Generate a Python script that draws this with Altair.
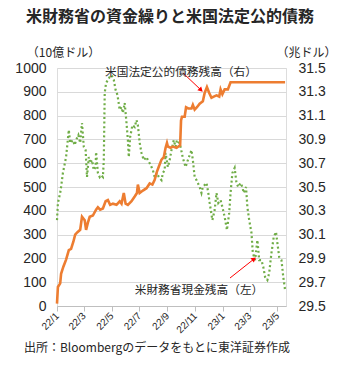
import altair as alt
import pandas as pd

# 米財務省現金残高（10億ドル, 左軸）
tga_dates = ["2022-01-01","2022-01-03","2022-01-08","2022-01-10","2022-01-14","2022-01-21","2022-01-27","2022-01-30",
             "2022-02-05","2022-02-09","2022-02-12","2022-02-17","2022-02-21","2022-02-25","2022-03-01","2022-03-05",
             "2022-03-08","2022-03-12","2022-03-15","2022-03-19","2022-03-23","2022-03-27","2022-03-28","2022-04-01",
             "2022-04-05","2022-04-08","2022-04-12","2022-04-14","2022-04-16","2022-04-19","2022-04-27","2022-05-01",
             "2022-05-06","2022-05-10","2022-05-14","2022-05-19","2022-05-23","2022-05-26","2022-05-30","2022-06-03",
             "2022-06-06","2022-06-08","2022-06-11","2022-06-16","2022-06-21","2022-06-25","2022-06-28","2022-07-02",
             "2022-07-06","2022-07-11","2022-07-17","2022-07-20","2022-07-24","2022-07-28","2022-07-31","2022-08-04",
             "2022-08-09","2022-08-13","2022-08-19","2022-08-22","2022-08-26","2022-08-28","2022-09-02","2022-09-06",
             "2022-09-10","2022-09-15","2022-09-19","2022-09-22","2022-09-27","2022-09-30","2022-10-05","2022-10-11",
             "2022-10-16","2022-10-24","2022-10-27","2022-10-31","2022-11-04","2022-11-11","2022-11-15","2022-11-18",
             "2022-11-26","2022-11-30","2022-12-03","2022-12-09","2022-12-14","2022-12-18","2022-12-22","2022-12-27",
             "2022-12-31","2023-01-05","2023-01-10","2023-01-15","2023-01-18","2023-01-22","2023-01-27","2023-01-31",
             "2023-02-04","2023-02-09","2023-02-13","2023-02-16","2023-02-21","2023-02-24","2023-02-28","2023-03-05",
             "2023-03-08","2023-03-13","2023-03-18","2023-03-22","2023-03-27","2023-03-31","2023-04-04","2023-04-09",
             "2023-04-13","2023-04-18","2023-04-23","2023-04-28","2023-05-01","2023-05-05","2023-05-10","2023-05-14",
             "2023-05-18"]
tga_values = [361, 433, 475, 500, 559, 626, 740, 685,
              697, 676, 697, 718, 685, 769, 668, 655,
              542, 626, 600, 613, 571, 584, 647, 559,
              542, 550, 542, 613, 895, 937, 962, 970,
              950, 908, 887, 824, 836, 811, 853, 769,
              697, 626, 710, 760, 752, 781, 760, 685,
              643, 613, 626, 613, 600, 584, 571, 542,
              559, 542, 529, 559, 571, 643, 584, 613,
              655, 697, 668, 697, 685, 668, 622, 584,
              613, 655, 613, 542, 529, 500, 475, 500,
              517, 475, 433, 361, 403, 475, 433, 445,
              416, 374, 319, 391, 475, 559, 580, 517,
              500, 517, 500, 475, 500, 416, 361, 307,
              223, 193, 277, 193, 193, 164, 122, 109,
              139, 223, 290, 311, 265, 206, 193, 122,
              67]

# 米国法定公的債務残高（兆ドル, 右軸）
debt_dates = ["2022-01-01","2022-01-03","2022-01-08","2022-01-10","2022-01-15","2022-01-21","2022-01-27","2022-02-01",
              "2022-02-06","2022-02-10","2022-02-15","2022-02-21","2022-02-25","2022-03-03","2022-03-06","2022-03-10",
              "2022-03-14","2022-03-21","2022-03-28","2022-04-01","2022-04-06","2022-04-12","2022-04-18","2022-04-23",
              "2022-04-28","2022-05-04","2022-05-12","2022-05-19","2022-05-23","2022-05-28","2022-06-01","2022-06-06",
              "2022-06-14","2022-06-21","2022-06-26","2022-06-28","2022-07-02","2022-07-09","2022-07-17","2022-07-24",
              "2022-07-30","2022-08-04","2022-08-09","2022-08-13","2022-08-19","2022-08-24","2022-08-28","2022-08-31",
              "2022-09-02","2022-09-08","2022-09-13","2022-09-21","2022-09-29","2022-10-01","2022-10-03","2022-10-09",
              "2022-10-12","2022-10-17","2022-10-24","2022-10-27","2022-10-31","2022-11-05","2022-11-11","2022-11-18",
              "2022-11-22","2022-11-27","2022-12-02","2022-12-07","2022-12-12","2022-12-18","2022-12-24","2022-12-27",
              "2022-12-31","2023-01-05","2023-01-12","2023-01-18","2023-05-18"]
debt_values = [29.52, 29.66, 29.69, 29.77, 29.83, 29.89, 29.97, 29.98,
               30.04, 30.10, 30.12, 30.14, 30.25, 30.22, 30.14, 30.20,
               30.25, 30.26, 30.31, 30.33, 30.31, 30.32, 30.38, 30.39,
               30.35, 30.36, 30.35, 30.38, 30.36, 30.45, 30.36, 30.35,
               30.38, 30.42, 30.45, 30.52, 30.45, 30.47, 30.49, 30.53,
               30.52, 30.56, 30.63, 30.67, 30.73, 30.75, 30.83, 30.87,
               30.84, 30.83, 30.84, 30.83, 30.85, 31.06, 31.09, 31.09,
               31.17, 31.16, 31.16, 31.19, 31.15, 31.17, 31.20, 31.22,
               31.29, 31.34, 31.29, 31.25, 31.26, 31.27, 31.26, 31.32,
               31.28, 31.32, 31.32, 31.38, 31.38]

tick_labels = ["22/1", "22/3", "22/5", "22/7", "22/9", "22/11", "23/1", "23/3", "23/5"]
left_ticks = [0, 100, 200, 300, 400, 500, 600, 700, 800, 900, 1000]
right_ticks = [29.5, 29.7, 29.9, 30.1, 30.3, 30.5, 30.7, 30.9, 31.1, 31.3, 31.5]
x_start, x_end = "2022-01-01", "2023-05-20"

title_text = "米財務省の資金繰りと米国法定公的債務"
left_unit = "（10億ドル）"
right_unit = "（兆ドル）"
label_debt = "米国法定公的債務残高（右）"
label_tga = "米財務省現金残高（左）"
source_text = "出所：Bloombergのデータをもとに東洋証券作成"

def ms(s):
    return int(pd.Timestamp(s, tz="UTC").value // 10**6)

tick_ms = [ms(f"20{t.split('/')[0]}-{int(t.split('/')[1]):02d}-01") for t in tick_labels]

tga = pd.DataFrame({"date": tga_dates, "value": tga_values})
debt = pd.DataFrame({"date": debt_dates, "value": debt_values})

JP = "Noto Sans CJK JP"
NUM = "Liberation Sans"
TXT = "#262626"

def x_enc():
    return alt.X("date:T",
                 scale=alt.Scale(type="utc", domain=[ms(x_start), ms(x_end)]),
                 axis=alt.Axis(values=tick_ms, labelExpr="utcFormat(datum.value, '%y/%-m')",
                               labelAngle=315, labelAlign="right", labelBaseline="middle",
                               labelFontSize=10, labelFont=NUM, labelColor=TXT, labelPadding=3,
                               tickSize=5, tickColor="#bfbfbf", domainColor="#bfbfbf",
                               grid=False, title=None, labelOverlap=False, labelBound=False,
                               labelFlush=False, tickCount=len(tick_ms)))

green = alt.Chart(tga).mark_line(color="#70AD47", strokeWidth=2.2, strokeDash=[2, 2.6]).encode(
    x=x_enc(),
    y=alt.Y("value:Q", scale=alt.Scale(domain=[0, 1000], nice=False, zero=False),
            axis=alt.Axis(values=left_ticks, format="d", grid=True, gridColor="#d9d9d9", domain=False,
                          ticks=False, labelFontSize=14, labelFont=NUM, labelColor=TXT, labelPadding=11,
                          title=left_unit, titleAngle=0, titleX=6, titleY=-16, titleAlign="center",
                          titleBaseline="middle", titleFontWeight="normal", titleFontSize=12,
                          titleFont=JP, titleColor=TXT))
)

orange = alt.Chart(debt).mark_line(color="#ED7D31", strokeWidth=2.6).encode(
    x=x_enc(),
    y=alt.Y("value:Q", scale=alt.Scale(domain=[29.5, 31.5], nice=False, zero=False),
            axis=alt.Axis(orient="right", values=right_ticks, format=".1f", grid=False, domain=False,
                          ticks=False, labelFontSize=14, labelFont=NUM, labelColor=TXT, labelPadding=12,
                          title=right_unit, titleAngle=0, titleX=20, titleY=-16, titleAlign="center",
                          titleBaseline="middle", titleFontWeight="normal", titleFontSize=12,
                          titleFont=JP, titleColor=TXT))
)

one = pd.DataFrame({"k": [0]})

def txt(s, x, y, size, weight="normal", font=JP):
    return alt.Chart(one).mark_text(text=s, fontSize=size, fontWeight=weight, font=font, color=TXT,
                                    align="center", baseline="middle").encode(
        x=alt.value(x), y=alt.value(y))

def arrow(x1, y1, x2, y2, ang):
    line = alt.Chart(one).mark_rule(color="#FF0000", strokeWidth=1).encode(
        x=alt.value(x1), y=alt.value(y1), x2=alt.value(x2), y2=alt.value(y2))
    head = alt.Chart(one).mark_point(shape="triangle-up", filled=True, color="#FF0000", size=30,
                                     opacity=1, angle=ang).encode(
        x=alt.value(x2), y=alt.value(y2))
    return line + head

chart = alt.layer(
    green, orange,
    arrow(126, 5, 144, 22, 134),
    arrow(173, 210, 197, 191, 51),
    txt(label_debt, 124, 4, 11.7),
    txt(label_tga, 142, 222, 11.7),
    txt(title_text, 113, -51, 16, "bold"),
    txt(source_text, 100, 280, 12),
).resolve_scale(y="independent").properties(
    width=229, height=238,
    padding={"left": 57, "top": 68, "right": 54, "bottom": 62},
    autosize=alt.AutoSizeParams(type="none"),
).configure_view(stroke=None).configure(background="white")

chart.save("out.html", embed_options={"renderer": "svg", "actions": False})
